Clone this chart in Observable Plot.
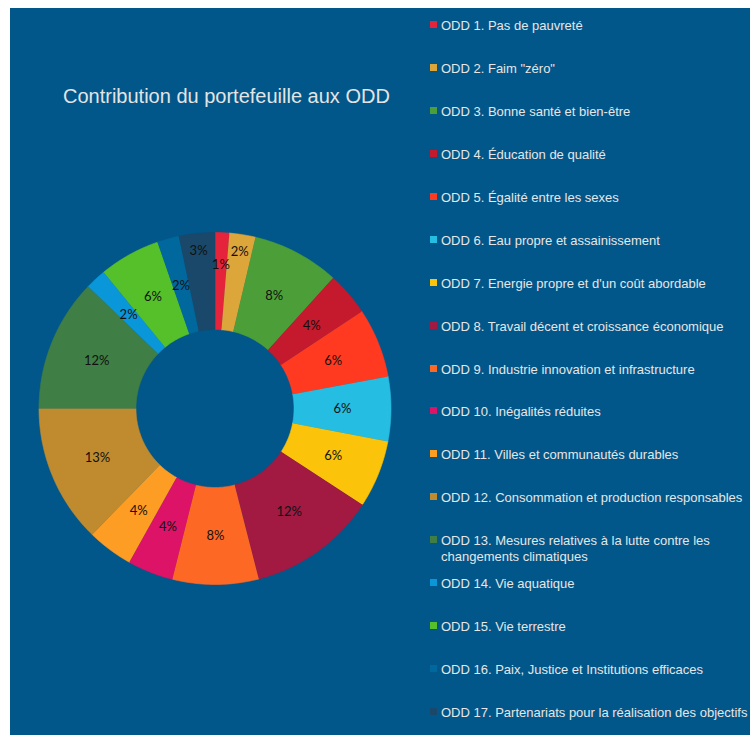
<!DOCTYPE html>
<html><head><meta charset="utf-8">
<script src="https://cdn.jsdelivr.net/npm/d3@7"></script>
<script src="https://cdn.jsdelivr.net/npm/@observablehq/plot@0.6"></script>
<style>
html,body{margin:0;padding:0;background:#fff;}
#wrap{position:relative;width:750px;height:735px;overflow:hidden;font-family:"Liberation Sans",Arial,sans-serif;}
#panel{position:absolute;left:10px;top:8px;width:740px;height:727px;background:#01568A;}
#chart{position:absolute;left:0;top:0;}
#title{position:absolute;left:63px;top:86px;font-size:20px;line-height:20px;color:#E4E4E4;white-space:nowrap;}
.item{position:absolute;left:430px;font-size:13px;line-height:15.7px;color:#E6E6E6;white-space:pre;}
.sw{position:absolute;left:0;top:3px;width:7px;height:7px;}
.tx{position:absolute;left:11px;top:0;}
</style></head>
<body>
<div id="wrap"><div id="panel"></div><div id="chart"></div><div id="title"></div></div>
<script>
const title = "Contribution du portefeuille aux ODD";
const names = [
  "ODD 1. Pas de pauvreté",
  "ODD 2. Faim \"zéro\"",
  "ODD 3. Bonne santé et bien-être",
  "ODD 4. Éducation de qualité",
  "ODD 5. Égalité entre les sexes",
  "ODD 6. Eau propre et assainissement",
  "ODD 7. Energie propre et d'un coût abordable",
  "ODD 8. Travail décent et croissance économique",
  "ODD 9. Industrie innovation et infrastructure",
  "ODD 10. Inégalités réduites",
  "ODD 11. Villes et communautés durables",
  "ODD 12. Consommation et production responsables",
  "ODD 13. Mesures relatives à la lutte contre les\nchangements climatiques",
  "ODD 14. Vie aquatique",
  "ODD 15. Vie terrestre",
  "ODD 16. Paix, Justice et Institutions efficaces",
  "ODD 17. Partenariats pour la réalisation des objectifs"
];
const values = [1.3, 2.4, 8.0, 4.0, 6.4, 5.9, 6.2, 11.8, 7.9, 4.2, 4.2, 12.7, 12.2, 1.9, 5.6, 2.0, 3.3];
const colors = ["#E5243B","#DDA63A","#4C9F38","#C5192D","#FF3A21","#26BDE2","#FCC30B","#A21942","#FD6925","#DD1367","#FD9D24","#BF8B2E","#3F7E44","#0A97D9","#56C02B","#00689D","#19486A"];

document.getElementById("title").textContent = title;

const total = d3.sum(values);
const rIn = 79 / 176;
let acc = 0;
const slices = names.map((name, i) => {
  const a0 = acc / total * 2 * Math.PI; acc += values[i];
  const a1 = acc / total * 2 * Math.PI;
  return {name, i, value: values[i], a0, a1};
});
const pts = [];
for (const s of slices) {
  const n = Math.max(2, Math.ceil((s.a1 - s.a0) / (Math.PI / 180)));
  for (let k = 0; k <= n; k++) { const a = s.a0 + (s.a1 - s.a0) * k / n; pts.push({name: s.name, x: Math.sin(a), y: Math.cos(a)}); }
  for (let k = n; k >= 0; k--) { const a = s.a0 + (s.a1 - s.a0) * k / n; pts.push({name: s.name, x: rIn * Math.sin(a), y: rIn * Math.cos(a)}); }
}
// label placement: middle of the ring, small top slices pushed outward (as in the source)
const nudge = {0: 0.815, 1: 0.9, 16: 0.9};
const labels = slices.map(s => {
  const a = (s.a0 + s.a1) / 2;
  const r = nudge[s.i] ?? (1 + rIn) / 2;
  return {x: r * Math.sin(a), y: r * Math.cos(a), text: Math.round(s.value / total * 100) + "%"};
});

const chart = Plot.plot({
  width: 750, height: 735, margin: 0,
  style: {background: "transparent", overflow: "visible"},
  x: {domain: [-1, 1], range: [38.5, 390.5], axis: null},
  y: {domain: [-1, 1], range: [584, 232], axis: null},
  color: {domain: names, range: colors},
  marks: [
    Plot.line(pts, {x: "x", y: "y", z: "name", fill: "name", stroke: "name", strokeWidth: 0.6, curve: "linear"}),
    Plot.text(labels, {x: "x", y: "y", text: "text", fill: "#111", fontSize: 13, fontFamily: "Lato, 'Open Sans', sans-serif"})
  ]
});
document.getElementById("chart").appendChild(chart);

const wrap = document.getElementById("wrap");
names.forEach((n, i) => {
  const it = document.createElement("div");
  it.className = "item";
  it.style.top = (18.3 + i * 42.9) + "px";
  const sw = document.createElement("div"); sw.className = "sw"; sw.style.background = colors[i];
  const tx = document.createElement("div"); tx.className = "tx"; tx.textContent = n;
  it.appendChild(sw); it.appendChild(tx);
  wrap.appendChild(it);
});
</script>
</body></html>
